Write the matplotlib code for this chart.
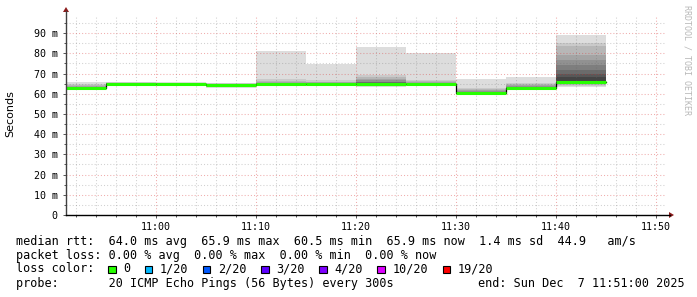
import numpy as np
import pandas as pd
import matplotlib
matplotlib.use('Agg')
import matplotlib.pyplot as plt
import matplotlib.dates as mdates
from matplotlib.lines import Line2D
from matplotlib.patches import Polygon, Rectangle
from matplotlib.ticker import MultipleLocator, FuncFormatter

# 5 minute steps (300s), 20 pings each, values in ms
starts = pd.date_range('2025-12-07 10:50', periods=11, freq='5min')
medians = [62.7, 64.9, 64.8, 64.4, 64.7, 64.6, 64.8, 64.7, 60.5, 62.9, 65.9]
pings = [
    [61.8, 62.0, 62.1, 62.2, 62.3, 62.4, 62.5, 62.6, 62.6, 62.7, 62.7, 62.8, 62.9, 63.0, 63.2, 63.5, 63.9, 64.3, 64.9, 65.6],
    [63.8, 64.1, 64.3, 64.4, 64.5, 64.6, 64.7, 64.8, 64.8, 64.9, 64.9, 65.0, 65.0, 65.1, 65.2, 65.3, 65.4, 65.5, 65.6, 65.8],
    [63.7, 64.0, 64.2, 64.3, 64.4, 64.5, 64.6, 64.7, 64.7, 64.8, 64.8, 64.9, 64.9, 65.0, 65.1, 65.2, 65.3, 65.4, 65.5, 65.7],
    [63.1, 63.4, 63.6, 63.8, 63.9, 64.0, 64.1, 64.2, 64.3, 64.4, 64.4, 64.5, 64.6, 64.7, 64.8, 64.9, 65.0, 65.0, 65.1, 65.2],
    [63.8, 64.0, 64.2, 64.3, 64.4, 64.5, 64.5, 64.6, 64.6, 64.7, 64.7, 64.8, 64.9, 65.0, 65.2, 65.5, 65.8, 66.3, 67.3, 81.2],
    [63.9, 64.1, 64.2, 64.3, 64.4, 64.4, 64.5, 64.5, 64.6, 64.6, 64.6, 64.7, 64.8, 64.9, 65.1, 65.3, 65.6, 66.0, 66.6, 74.5],
    [63.5, 63.9, 64.1, 64.3, 64.4, 64.5, 64.6, 64.6, 64.7, 64.8, 64.8, 64.9, 65.2, 65.6, 66.0, 66.6, 67.3, 68.3, 69.5, 83.3],
    [63.8, 64.0, 64.2, 64.3, 64.4, 64.5, 64.5, 64.6, 64.6, 64.7, 64.7, 64.8, 64.9, 65.0, 65.2, 65.5, 65.9, 66.3, 66.9, 80.0],
    [59.6, 59.8, 60.0, 60.1, 60.2, 60.3, 60.4, 60.4, 60.5, 60.5, 60.5, 60.6, 60.7, 60.9, 61.1, 61.4, 61.8, 62.3, 63.0, 67.3],
    [62.2, 62.4, 62.5, 62.6, 62.7, 62.8, 62.8, 62.9, 62.9, 62.9, 63.0, 63.0, 63.1, 63.3, 63.5, 63.8, 64.2, 64.7, 65.4, 68.5],
    [63.4, 64.0, 64.5, 64.8, 65.0, 65.2, 65.4, 65.6, 65.8, 65.9, 66.0, 68.5, 70.0, 71.8, 74.3, 76.7, 79.0, 83.8, 85.0, 89.2],
]
loss_labels = ['0', '1/20', '2/20', '3/20', '4/20', '10/20', '19/20']
loss_colors = ['#26ff00', '#00b8ff', '#0059ff', '#5e00ff', '#7e00ff', '#dd00ff', '#ff0000']

line_rtt = 'median rtt:  64.0 ms avg  65.9 ms max  60.5 ms min  65.9 ms now  1.4 ms sd  44.9   am/s'
line_loss = 'packet loss: 0.00 % avg  0.00 % max  0.00 % min  0.00 % now'
line_probe = 'probe:       20 ICMP Echo Pings (56 Bytes) every 300s'
line_end = 'end: Sun Dec  7 11:51:00 2025'

W, H = 697, 297
def fx(x):
    return x / W
def fy(y):
    return 1 - y / H

fig = plt.figure(figsize=(W / 100, H / 100), dpi=100)
fig.patch.set_facecolor('white')
ax = fig.add_axes([fx(66), fy(215), 600 / W, 200 / H])
ax.set_facecolor('white')

edges = list(starts) + [starts[-1] + pd.Timedelta('5min')]
P = np.array(pings)
# smoke: nested bands, outer light -> inner dark (smokeping style)
for k in range(1, 11):
    c = int(190 / 10 * (10 - k)) + 50
    col = '#%02x%02x%02x' % (c, c, c)
    lo = list(P[:, k - 1]) + [P[-1, k - 1]]
    hi = list(P[:, 20 - k]) + [P[-1, 20 - k]]
    ax.fill_between(edges, lo, hi, step='post', color=col, lw=0, zorder=1)

med = medians + [medians[-1]]
ax.step(edges, med, where='post', color='black', lw=0.9, zorder=3)
ax.hlines(medians, starts, starts + pd.Timedelta('5min'), color=loss_colors[0], lw=2.2, zorder=4)

ax.set_xlim(pd.Timestamp('2025-12-07 10:51'), pd.Timestamp('2025-12-07 11:51'))
ax.set_ylim(0, 99)

ax.xaxis.set_major_locator(mdates.MinuteLocator(byminute=range(0, 60, 10)))
ax.xaxis.set_minor_locator(mdates.MinuteLocator(byminute=range(0, 60, 2)))
ax.xaxis.set_major_formatter(mdates.DateFormatter('%H:%M'))
ax.yaxis.set_major_locator(MultipleLocator(10))
ax.yaxis.set_minor_locator(MultipleLocator(5))
ax.yaxis.set_major_formatter(FuncFormatter(lambda v, p: '0' if v == 0 else '%d m' % v))

ax.grid(which='minor', color=(0.4, 0.4, 0.4), alpha=0.3, ls=(0, (1, 2)), lw=0.75)
ax.grid(which='major', color=(0.85, 0.2, 0.2), alpha=0.4, ls=(0, (1, 2)), lw=0.75)
ax.set_axisbelow(False)

for s in ax.spines.values():
    s.set_visible(False)
ax.tick_params(which='both', direction='out', color='#555555', width=0.7, labelsize=7.2,
               labelfontfamily='DejaVu Sans Mono')
ax.tick_params(which='major', length=2, pad=4)
ax.tick_params(which='minor', length=1.5)
ax.tick_params(axis='x', pad=3)

# axis lines with arrows
axis_col = '#404040'
fig.add_artist(Line2D([fx(66), fx(66)], [fy(215), fy(11)], color=axis_col, lw=1.0))
fig.add_artist(Line2D([fx(66), fx(670)], [fy(215), fy(215)], color='black', lw=1.0))
arrow_col = '#8b1a1a'
fig.add_artist(Polygon([[fx(63), fy(12)], [fx(69), fy(12)], [fx(66), fy(7)]], closed=True,
                       color=arrow_col, lw=0))
fig.add_artist(Polygon([[fx(669), fy(212)], [fx(669), fy(218)], [fx(674), fy(215)]], closed=True,
                       color=arrow_col, lw=0))

fig.text(fx(10.5), fy(114), 'Seconds', rotation=90, ha='center', va='center',
         fontsize=8, family='DejaVu Sans')
fig.text(fx(687), fy(5), 'RRDTOOL / TOBI OETIKER', rotation=270, ha='center', va='top',
         fontsize=6, family='DejaVu Sans Mono', color='#b8b8b8')

mono = dict(family='DejaVu Sans Mono', fontsize=8.5, va='center', color='black')
fig.text(fx(16), fy(241), line_rtt, **mono)
fig.text(fx(16), fy(255), line_loss, **mono)
fig.text(fx(16), fy(269), 'loss color:', **mono)
fig.text(fx(16), fy(283.5), line_probe, **mono)
fig.text(fx(478), fy(283.5), line_end, **mono)

cw = 7.2
bx = 108.3
for lab, col in zip(loss_labels, loss_colors):
    fig.add_artist(Rectangle((fx(bx), fy(273)), 7.5 / W, 7.5 / H, facecolor=col,
                             edgecolor='black', lw=0.8))
    fig.text(fx(bx + 15), fy(269), lab, **mono)
    bx += cw * (4 + len(lab)) + 0.5

fig.savefig('out.png', dpi=100)
